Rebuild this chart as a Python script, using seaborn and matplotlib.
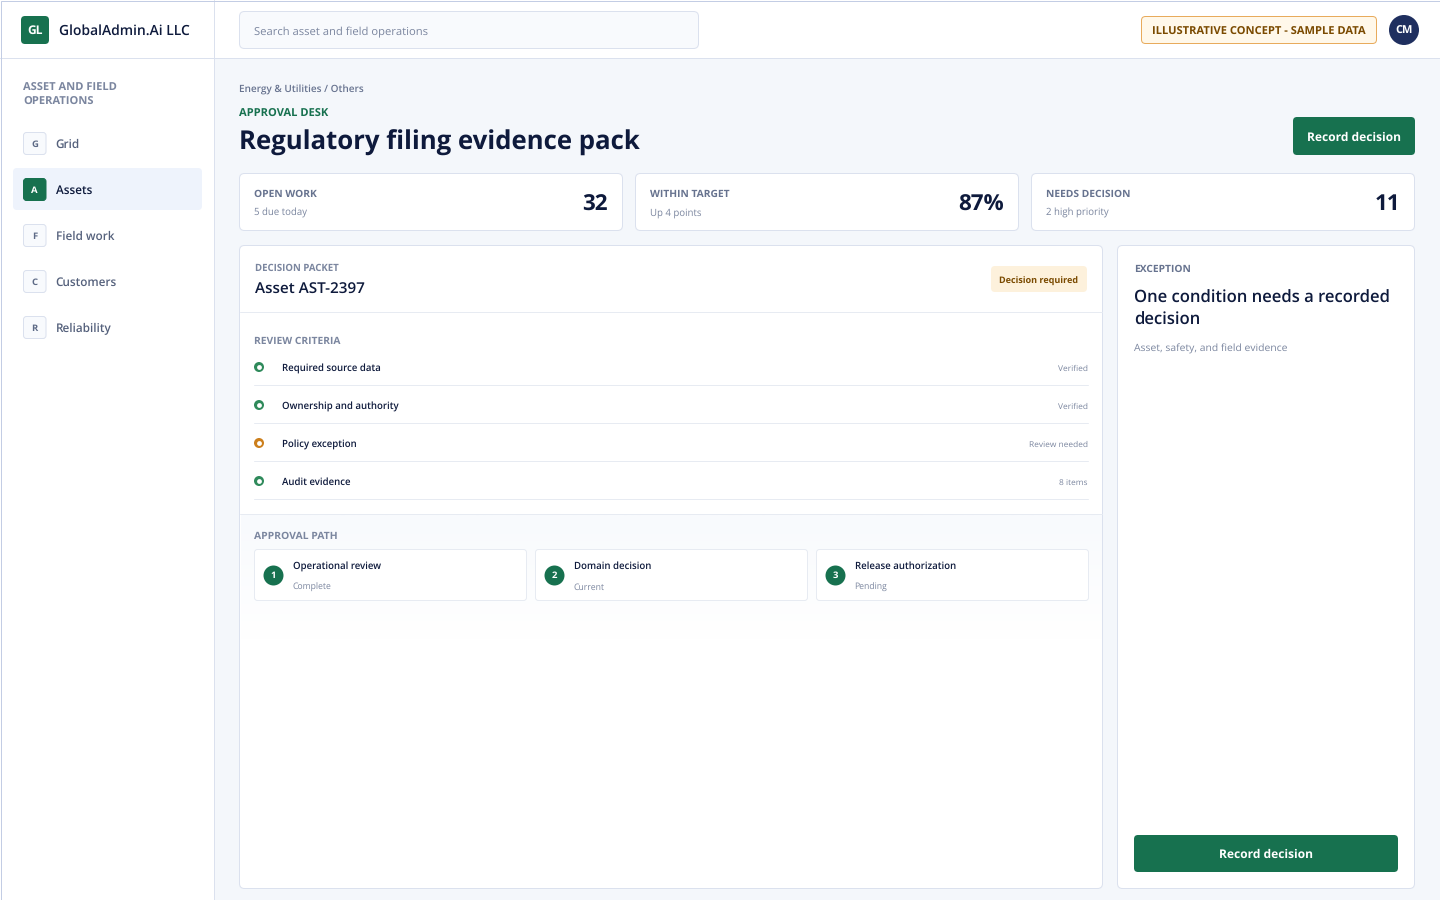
import numpy as np
import pandas as pd
import seaborn as sns
import matplotlib.pyplot as plt
from matplotlib.patches import FancyBboxPatch, Circle

# Text and values
company = "GlobalAdmin.Ai LLC"
nav_letters = ["G", "A", "F", "C", "R"]
nav_labels = ["Grid", "Assets", "Field work", "Customers", "Reliability"]
kpi_labels = ["OPEN WORK", "WITHIN TARGET", "NEEDS DECISION"]
kpi_notes = ["5 due today", "Up 4 points", "2 high priority"]
kpi_values = ["32", "87%", "11"]
criteria = ["Required source data", "Ownership and authority", "Policy exception", "Audit evidence"]
criteria_status = ["Verified", "Verified", "Review needed", "8 items"]
criteria_state = ["ok", "ok", "warn", "ok"]
steps = ["Operational review", "Domain decision", "Release authorization"]
step_status = ["Complete", "Current", "Pending"]

GREEN = "#17714f"
NAVY = "#0e1a3c"
MUTED = "#67738f"
SOFT = "#7b869f"
LINE = "#dbe1ee"
ROW_LINE = "#e7ebf2"

sns.set_theme(style="white")
plt.rcParams["font.family"] = ["Open Sans", "DejaVu Sans"]
plt.rcParams["text.hinting"] = "none"

fig = plt.figure(figsize=(14.4, 9), dpi=100, facecolor="white")
ax = fig.add_axes([0, 0, 1, 1])


def box(x0, y0, x1, y1, fill="white", edge=LINE, r=4, lw=0.72, z=2):
    ax.add_patch(FancyBboxPatch((x0, y0), x1 - x0, y1 - y0, boxstyle=f"round,pad=0,rounding_size={r}",
                                facecolor=fill, edgecolor=edge, linewidth=lw, zorder=z))


def label(x, y, s, px=11, color=NAVY, weight="normal", ha="left", z=6):
    # px sizes from the page, the figure is 100 dpi
    ax.text(x, y + 1, s, fontsize=px * 0.72, color=color, fontweight=weight, ha=ha, va="center", zorder=z)


# Page background and frame
ax.add_patch(plt.Rectangle((214, 58), 1226, 842, facecolor="#f4f7fb", edgecolor="none", zorder=0))
ax.plot([214, 214], [0, 900], color=LINE, lw=0.72, zorder=1)
ax.plot([0, 1440], [58, 58], color=LINE, lw=0.72, zorder=1)
ax.add_patch(plt.Rectangle((0.5, 0.5), 1439, 899, facecolor="none", edgecolor="#c3cde4", lw=0.72, zorder=9))

# Top bar
box(21, 16, 49, 44, fill=GREEN, edge="none", r=4, lw=0)
label(35, 30, "GL", 12, "white", "bold", "center")
label(59, 30, company, 13.9, NAVY, 600)
box(239.5, 11.5, 698.5, 48.5, fill="#f8fafd", r=5)
label(254, 31, "Search asset and field operations", 11.3, SOFT)
box(1141.5, 16.5, 1376.5, 43.5, fill="#fff8ea", edge="#e8ab5c", r=4)
label(1259, 30.7, "ILLUSTRATIVE CONCEPT - SAMPLE DATA", 11.1, "#7a4a00", "bold", "center")
ax.add_patch(Circle((1404, 30), 15, facecolor="#1f2f5f", edgecolor="none", zorder=3))
label(1404, 30.2, "CM", 11, "white", "bold", "center")

# Sidebar
label(23, 86.8, "ASSET AND FIELD", 11.1, SOFT, "bold")
label(23, 100.8, "OPERATIONS", 11.1, SOFT, "bold")
for i, (letter, name) in enumerate(zip(nav_letters, nav_labels)):
    cy = 143.5 + i * 46
    active = name == "Assets"
    if active:
        box(13, cy - 21.5, 202, cy + 20.5, fill="#eef3fc", edge="none", r=4, lw=0)
    box(23.5, cy - 11, 46, cy + 11, fill=GREEN if active else "#f8fafd", edge=GREEN if active else LINE, r=3, z=3)
    label(34.7, cy - 0.2, letter, 9.5, "white" if active else "#5d6a86", "bold", "center")
    label(55.6, cy + 0.2, name, 11.8, NAVY if active else "#55617c", 600)

# Page heading
label(239, 88.6, "Energy & Utilities / Others", 10, MUTED, 600)
label(239, 112.8, "APPROVAL DESK", 11.1, GREEN, "bold")
label(239, 142.4, "Regulatory filing evidence pack", 25.8, NAVY, "bold")
box(1293, 117, 1415, 155, fill=GREEN, edge="none", r=4, lw=0)
label(1354, 136.6, "Record decision", 12, "white", "bold", "center")

# KPI cards
for i, (name, note, value) in enumerate(zip(kpi_labels, kpi_notes, kpi_values)):
    x0 = 239.5 + i * 396
    box(x0, 173.5, x0 + 383, 230.5, r=5)
    label(x0 + 14.5, 193.6, name, 10.3, MUTED, "bold")
    label(x0 + 14.5, 211.7, note, 9.6, SOFT)
    label(x0 + 368.5, 203.6, value, 22.4, NAVY, "bold", "right")

# Main panel
box(239.5, 245.5, 1102.5, 888.5, r=5)
shade = np.linspace(0, 1, 64).reshape(-1, 1)
ax.imshow(shade, extent=(240.5, 1101.5, 640, 515), aspect="auto", cmap=sns.blend_palette(["#f8fafd", "white"], as_cmap=True), zorder=2.5)
ax.plot([240, 1102], [312, 312], color=ROW_LINE, lw=0.72, zorder=3)
ax.plot([240, 1102], [514, 514], color=ROW_LINE, lw=0.72, zorder=3)
label(255, 267.3, "DECISION PACKET", 9.6, SOFT, "bold")
label(255, 288.8, "Asset AST-2397", 15.3, NAVY, 600)
box(991, 266, 1087, 292, fill="#fdf1dc", edge="none", r=4, lw=0)
label(1039, 280, "Decision required", 9, "#7a4a00", "bold", "center")

label(254, 340.3, "REVIEW CRITERIA", 10.2, SOFT, "bold")
rows = pd.DataFrame({"name": criteria, "status": criteria_status, "state": criteria_state})
rows["row"] = rows.index * 38 + 367
rows["col"] = 259
sns.scatterplot(data=rows, x="col", y="row", hue="state", palette={"ok": "#2f8a5b", "warn": "#cc7f1c"},
                s=52, linewidth=0, legend=False, ax=ax, zorder=5)
sns.scatterplot(data=rows, x="col", y="row", color="white", s=12, linewidth=0, legend=False, ax=ax, zorder=5.5)
for _, r in rows.iterrows():
    label(282, r["row"] + 0.8, r["name"], 9.6, NAVY, 600)
    label(1088, r["row"] + 0.5, r["status"], 8.4, SOFT, "normal", "right")
    ax.plot([254, 1088], [r["row"] + 18, r["row"] + 18], color=ROW_LINE, lw=0.72, zorder=3)

# Approval path
label(254, 535.6, "APPROVAL PATH", 10.4, SOFT, "bold")
path = pd.DataFrame({"step": steps, "status": step_status})
path["left"] = 254.5 + path.index * 281
path["mark"] = path["left"] + 18.5
path["mid"] = 575
for _, r in path.iterrows():
    box(r["left"], 549.5, r["left"] + 272, 600.5, edge=ROW_LINE, r=3, z=3)
    label(r["left"] + 38.5, 565.6, r["step"], 9.6, NAVY, 600)
    label(r["left"] + 38, 586.7, r["status"], 8.7, SOFT)
sns.scatterplot(data=path, x="mark", y="mid", color=GREEN, s=207, linewidth=0, legend=False, ax=ax, zorder=5)
for i, r in path.iterrows():
    label(r["mark"], 574.5, str(i + 1), 9.5, "white", "bold", "center")

# Right panel
box(1117.5, 245.5, 1414.5, 888.5, r=5)
label(1134, 268.3, "EXCEPTION", 10.2, MUTED, "bold")
label(1134, 297.3, "One condition needs a recorded", 16.6, NAVY, 600)
label(1134, 319.3, "decision", 16.6, NAVY, 600)
label(1134, 347.7, "Asset, safety, and field evidence", 10.4, SOFT)
box(1134, 835, 1398, 872, fill=GREEN, edge="none", r=4, lw=0)
label(1266, 853.5, "Record decision", 12, "white", "bold", "center")

ax.set_xlim(0, 1440)
ax.set_ylim(900, 0)
ax.set_xlabel("")
ax.set_ylabel("")
ax.axis("off")

plt.savefig("out.png", dpi=100, facecolor="white")
plt.close()
